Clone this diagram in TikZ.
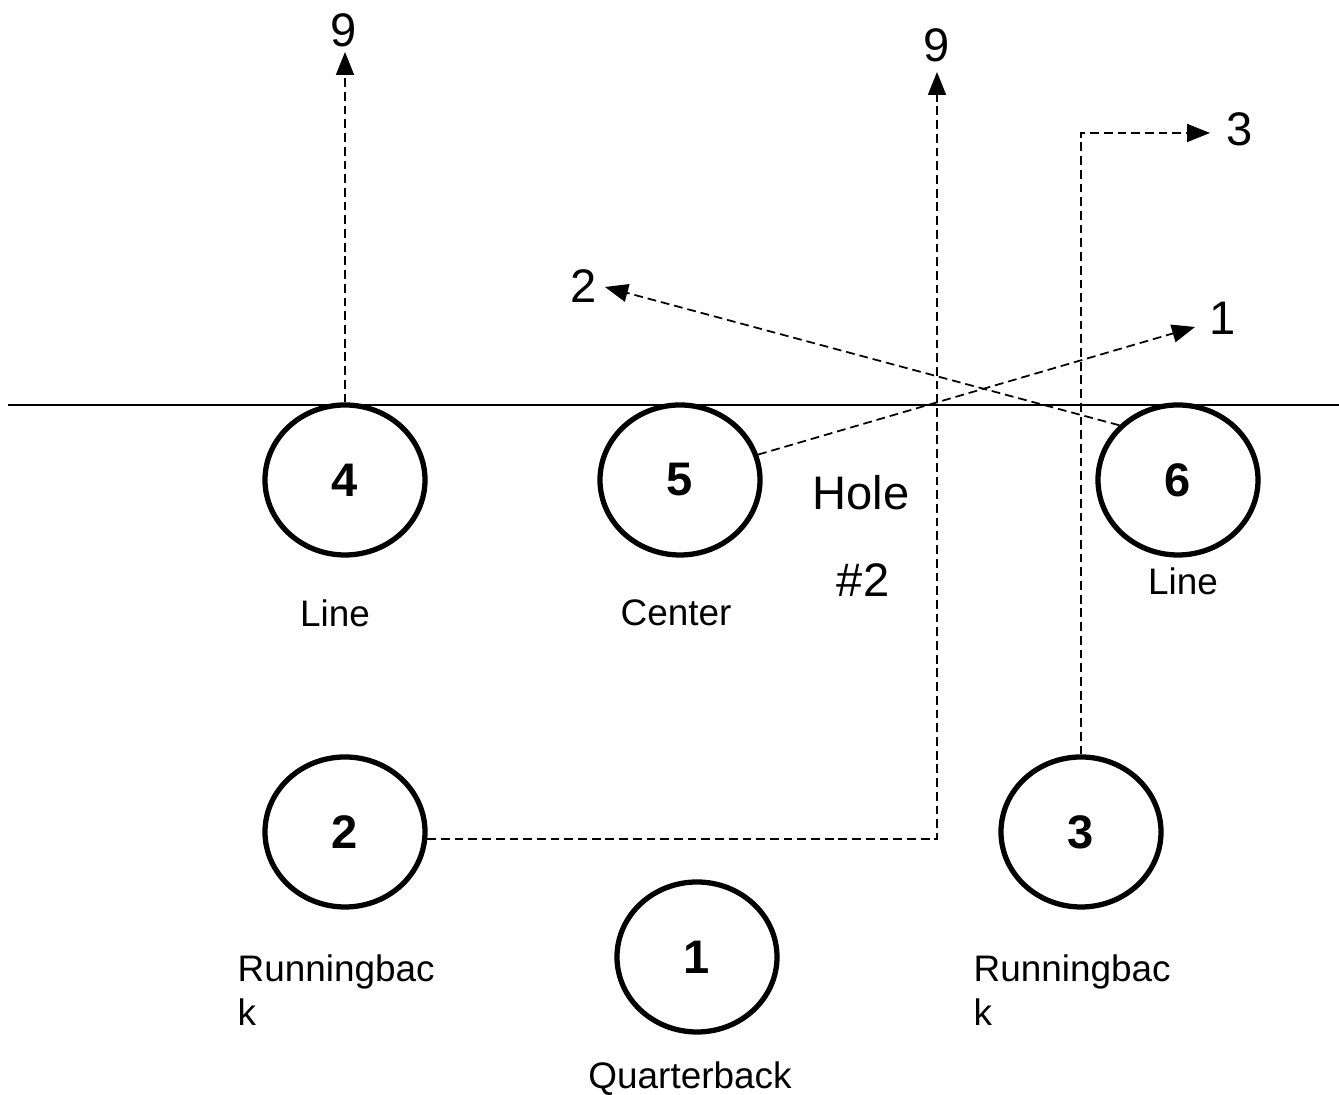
\documentclass[tikz,border=0pt]{standalone}
\usepackage{fontspec}
\setmainfont{Liberation Sans}
\usetikzlibrary{shapes.geometric, arrows.meta, positioning}

\begin{document}
\begin{tikzpicture}[
  player/.style={ellipse, draw, line width=1.5pt, minimum width=1.6cm, minimum height=1.5cm,
                 inner sep=0pt, font=\fontsize{13.4}{15}\selectfont\bfseries},
  route/.style={line width=0.5pt, dash pattern=on 2.5pt off 1.4pt,
                -{Triangle[length=2.3mm, width=1.8mm]}},
  lbl/.style={font=\fontsize{10.5}{12.5}\selectfont, inner sep=0pt},
  big/.style={font=\fontsize{13.4}{15}\selectfont, inner sep=0pt},
]
\useasboundingbox (0,0) rectangle (13.39,10.95);

% line of scrimmage
\draw[line width=0.5pt] (0.08,6.90) -- (13.39,6.90);

% players
\node[player] (p4) at (3.45, 6.15) {4};
\node[player] (p5) at (6.80, 6.15) {5};
\node[player] (p6) at (11.78, 6.15) {6};
\node[player] (p2) at (3.45, 2.63) {2};
\node[player] (p3) at (10.81, 2.63) {3};
\node[player] (p1) at (6.97, 1.38) {1};

% position names
\node[lbl] (l4) at (3.35, 4.82) {Line};
\node[lbl] (l5) at (6.76, 4.82) {Center};
\node[lbl] (l6) at (11.83, 5.14) {Line};
\node[lbl, anchor=west, align=left] (l2) at (2.37, 1.05) {Runningbac\\k};
\node[lbl, anchor=west, align=left] (l3) at (9.73, 1.05) {Runningbac\\k};
\node[lbl] (l1) at (6.90, 0.16) {Quarterback};
\node[big] (hole) at (8.61, 6.02) {Hole};
\node[big] (holenr) at (8.63, 5.15) {\#2};

% route ends
\coordinate (e4) at (3.45, 10.43);
\coordinate (e2) at (9.37, 10.23);
\coordinate (e3) at (12.10, 9.62);
\coordinate (e6) at (6.05, 8.08);
\coordinate (e5) at (11.95, 7.68);

% route numbers
\node[big] (r4) at (3.44, 10.65) {9};
\node[big] (r2) at (9.37, 10.50) {9};
\node[big] (r3) at (12.40, 9.66) {3};
\node[big] (r6) at (5.84, 8.09) {2};
\node[big] (r5) at (12.23, 7.77) {1};

% routes
\draw[route] (p4.north) -- (e4);
\draw[route] (p2.-5) -| (e2);
\draw[route] (p3.north) |- (e3);
\draw[route] (p6.137) -- (e6);
\draw[route] (p5.18) -- (e5);
\end{tikzpicture}
\end{document}
